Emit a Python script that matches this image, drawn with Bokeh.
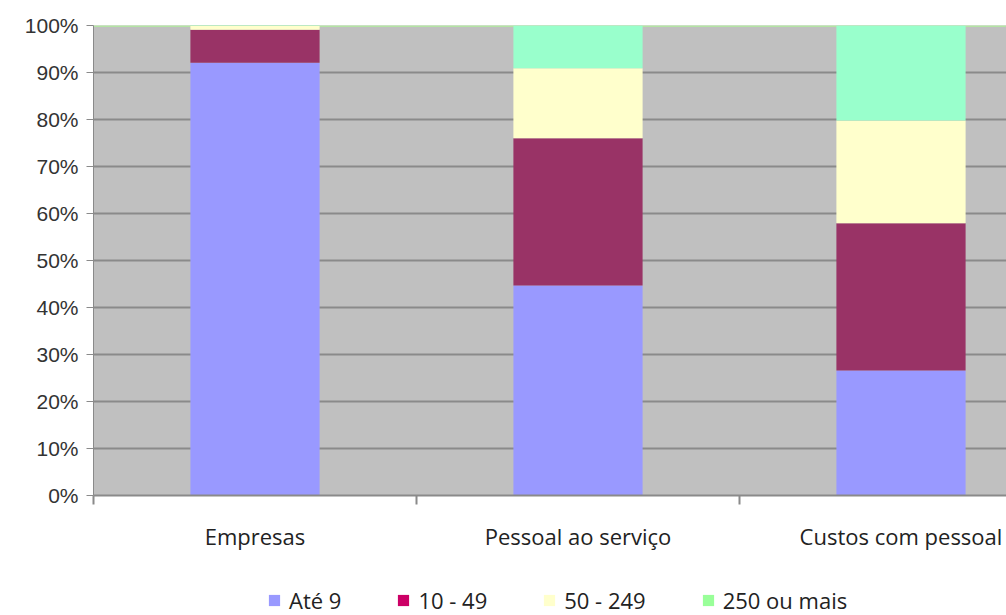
from bokeh.plotting import figure
from bokeh.layouts import column
from bokeh.models import (ColumnDataSource, LinearAxis, FixedTicker, NumeralTickFormatter,
                          Range1d, Legend, LegendItem, Span)
from bokeh.embed import file_html
from bokeh.resources import INLINE

categories = ["Empresas", "Pessoal ao serviço", "Custos com pessoal"]
series = ["Até 9", "10 - 49", "50 - 249", "250 ou mais"]
ate9 = [0.921, 0.447, 0.266]
s10_49 = [0.070, 0.313, 0.313]
s50_249 = [0.008, 0.149, 0.219]
s250 = [0.001, 0.091, 0.202]
bar_colors = ["#9999FF", "#993366", "#FFFFCC", "#99FFCC"]
legend_colors = ["#9999FF", "#CC0066", "#FFFFCC", "#99FF99"]
y_ticks = [i / 10 for i in range(11)]

x_pos = [i + 0.5 for i in range(len(categories))]
data = {"x": x_pos, "s0": ate9, "s1": s10_49, "s2": s50_249, "s3": s250}
source = ColumnDataSource(data)

p = figure(frame_width=913, frame_height=470, output_backend="svg", toolbar_location=None,
           x_range=Range1d(0, 913 / 323), y_range=Range1d(0, 1),
           x_axis_location=None, y_axis_location=None,
           min_border_left=93, min_border_top=25, min_border_right=0, min_border_bottom=85)
p.background_fill_color = "#C0C0C0"
p.border_fill_color = "white"
p.outline_line_color = None

p.xgrid.visible = False
p.ygrid.ticker = FixedTicker(ticks=y_ticks)
p.ygrid.grid_line_color = "#8A8A8A"
p.ygrid.grid_line_width = 2

# light green line along the top of the plot area
p.add_layout(Span(location=y_ticks[-1], dimension="width", line_color="#B4E4A4",
                  line_width=3, level="underlay"))

p.vbar_stack(["s0", "s1", "s2", "s3"], x="x", width=0.40, source=source,
             color=bar_colors, line_color=None)

# y axis
yax = LinearAxis(ticker=FixedTicker(ticks=y_ticks), formatter=NumeralTickFormatter(format="0%"))
yax.axis_line_color = "#8A8A8A"
yax.major_tick_line_color = "#8A8A8A"
yax.major_tick_out = 7
yax.major_tick_in = 0
yax.minor_tick_line_color = None
yax.major_label_text_font = "Liberation Sans"
yax.major_label_text_font_size = "21px"
yax.major_label_text_color = "#333333"
yax.major_label_standoff = 8
p.add_layout(yax, "left")

# x axis: tick marks at category boundaries
xa = LinearAxis(ticker=FixedTicker(ticks=[0, 1, 2, 3]))
xa.axis_line_color = "#8A8A8A"
xa.axis_line_width = 2
xa.major_tick_line_color = "#8A8A8A"
xa.major_tick_line_width = 2
xa.major_tick_out = 9
xa.major_tick_in = 0
xa.minor_tick_line_color = None
xa.major_label_overrides = {0: "", 1: "", 2: "", 3: ""}
xa.major_label_text_font_size = "1px"
xa.major_label_standoff = 0
p.add_layout(xa, "below")

# x axis: category labels
xb = LinearAxis(ticker=FixedTicker(ticks=x_pos))
xb.axis_line_color = None
xb.major_tick_line_color = None
xb.minor_tick_line_color = None
xb.major_label_overrides = {x: c for x, c in zip(x_pos, categories)}
xb.major_label_text_font = "Open Sans"
xb.major_label_text_font_size = "22px"
xb.major_label_text_color = "#222222"
xb.major_label_standoff = 10
p.add_layout(xb, "below")

# legend strip (separate figure so the legend is not clipped)
lg = figure(width=1006, height=35, output_backend="svg", toolbar_location=None,
            x_axis_location=None, y_axis_location=None, min_border=0,
            x_range=Range1d(0, 1), y_range=Range1d(0, 1))
lg.outline_line_color = None
lg.xgrid.visible = False
lg.ygrid.visible = False
items = []
for name, col in zip(series, legend_colors):
    # off-range dummy point: only its legend swatch is shown
    r = lg.vbar(x=[-10], top=[-10], width=0.1, fill_color=col, line_color=None)
    items.append(LegendItem(label=name, renderers=[r]))
legend = Legend(items=items, orientation="horizontal", location=(174, 0))
legend.label_text_font = "Open Sans"
legend.label_text_font_size = "22px"
legend.label_text_color = "#222222"
legend.glyph_width = 14
legend.glyph_height = 14
legend.label_standoff = 8
legend.spacing = 55
legend.border_line_color = None
legend.background_fill_alpha = 0
legend.margin = 0
legend.padding = 0
lg.add_layout(legend, "center")

open("out.html", "w").write(file_html(column(p, lg, spacing=0), INLINE))
